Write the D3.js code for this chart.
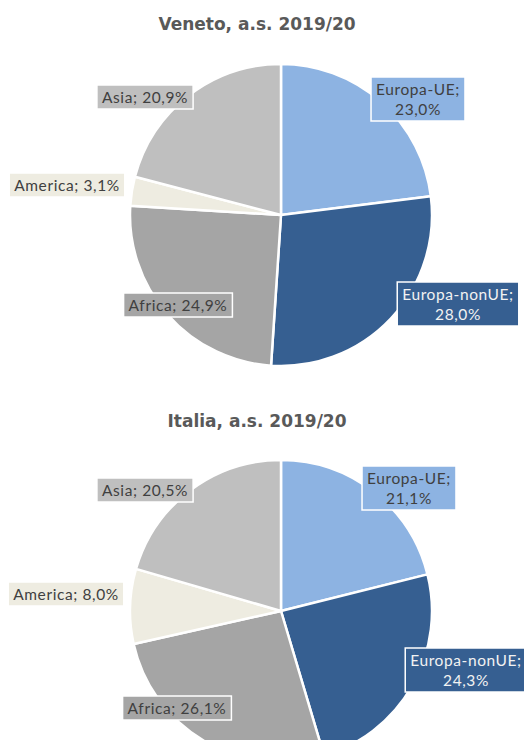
<!DOCTYPE html>
<html>
<head>
<meta charset="utf-8">
<script src="https://cdn.jsdelivr.net/npm/d3@7"></script>
<style>
  html, body { margin: 0; padding: 0; background: #ffffff; }
  svg { display: block; }
</style>
</head>
<body>
<svg id="chart" width="524" height="740"></svg>
<script>
// Origin of foreign pupils by area, share of total (%)
const areas = ["Europa-UE", "Europa-nonUE", "Africa", "America", "Asia"];
const veneto = [23.0, 28.0, 24.9, 3.1, 20.9];
const italia = [21.1, 24.3, 26.1, 8.0, 20.5];
const titles = ["Veneto, a.s. 2019/20", "Italia, a.s. 2019/20"];

const colors = ["#8db3e2", "#365f91", "#a5a5a5", "#eeece1", "#bfbfbf"];
const textColors = ["#404040", "#f2f2f2", "#404040", "#404040", "#404040"];
const twoLine = [true, true, false, false, false];

// label box centres, relative to each pie's centre
const labelOffsets = [
  [[138, -116], [178, 89], [-102, 91], [-213, -29], [-135, -117]],
  [[129, -123], [186, 59], [-103, 98], [-214, -16], [-135, -120]]
];

const svg = d3.select("#chart");
const radius = 151;
const layout = [
  { cx: 281, cy: 215, titleY: 30, values: veneto },
  { cx: 281, cy: 611, titleY: 427, values: italia }
];

const color = d3.scaleOrdinal().domain(areas).range(colors);
const pie = d3.pie().sort(null).value(d => d.value);
const arc = d3.arc().innerRadius(0).outerRadius(radius);
const fmt = v => d3.format(".1f")(v).replace(".", ",") + "%";

layout.forEach((p, pi) => {
  svg.append("text")
    .attr("x", 257)
    .attr("y", p.titleY)
    .attr("text-anchor", "middle")
    .attr("font-family", "DejaVu Sans, Verdana, sans-serif")
    .attr("font-weight", "bold")
    .attr("font-size", 17)
    .attr("fill", "#595959")
    .text(titles[pi]);

  const data = areas.map((a, i) => ({ area: a, value: p.values[i], i }));
  const g = svg.append("g").attr("transform", `translate(${p.cx},${p.cy})`);

  g.selectAll("path")
    .data(pie(data))
    .join("path")
    .attr("d", arc)
    .attr("fill", d => color(d.data.area))
    .attr("stroke", "#ffffff")
    .attr("stroke-width", 2.5)
    .attr("stroke-linejoin", "round");

  data.forEach(d => {
    const [ox, oy] = labelOffsets[pi][d.i];
    const lg = g.append("g").attr("transform", `translate(${ox - 1},${oy})`);
    const rect = lg.append("rect");
    const t = lg.append("text")
      .attr("text-anchor", "middle")
      .attr("font-family", "Lato, 'Open Sans', sans-serif")
      .attr("font-size", 15.5)
      .attr("letter-spacing", 0.6)
      .attr("fill", textColors[d.i]);
    if (twoLine[d.i]) {
      t.append("tspan").attr("x", 0).attr("y", -4).text(d.area + ";");
      t.append("tspan").attr("x", 0).attr("y", 16).text(fmt(d.value));
    } else {
      t.append("tspan").attr("x", 0).attr("y", 5).text(d.area + "; " + fmt(d.value));
    }
    const bb = t.node().getBBox();
    rect.attr("x", bb.x - 5)
      .attr("y", bb.y - 3)
      .attr("width", bb.width + 10)
      .attr("height", bb.height + 6)
      .attr("fill", color(d.area))
      .attr("stroke", "#ffffff")
      .attr("stroke-width", 1.5);
  });
});
</script>
</body>
</html>
